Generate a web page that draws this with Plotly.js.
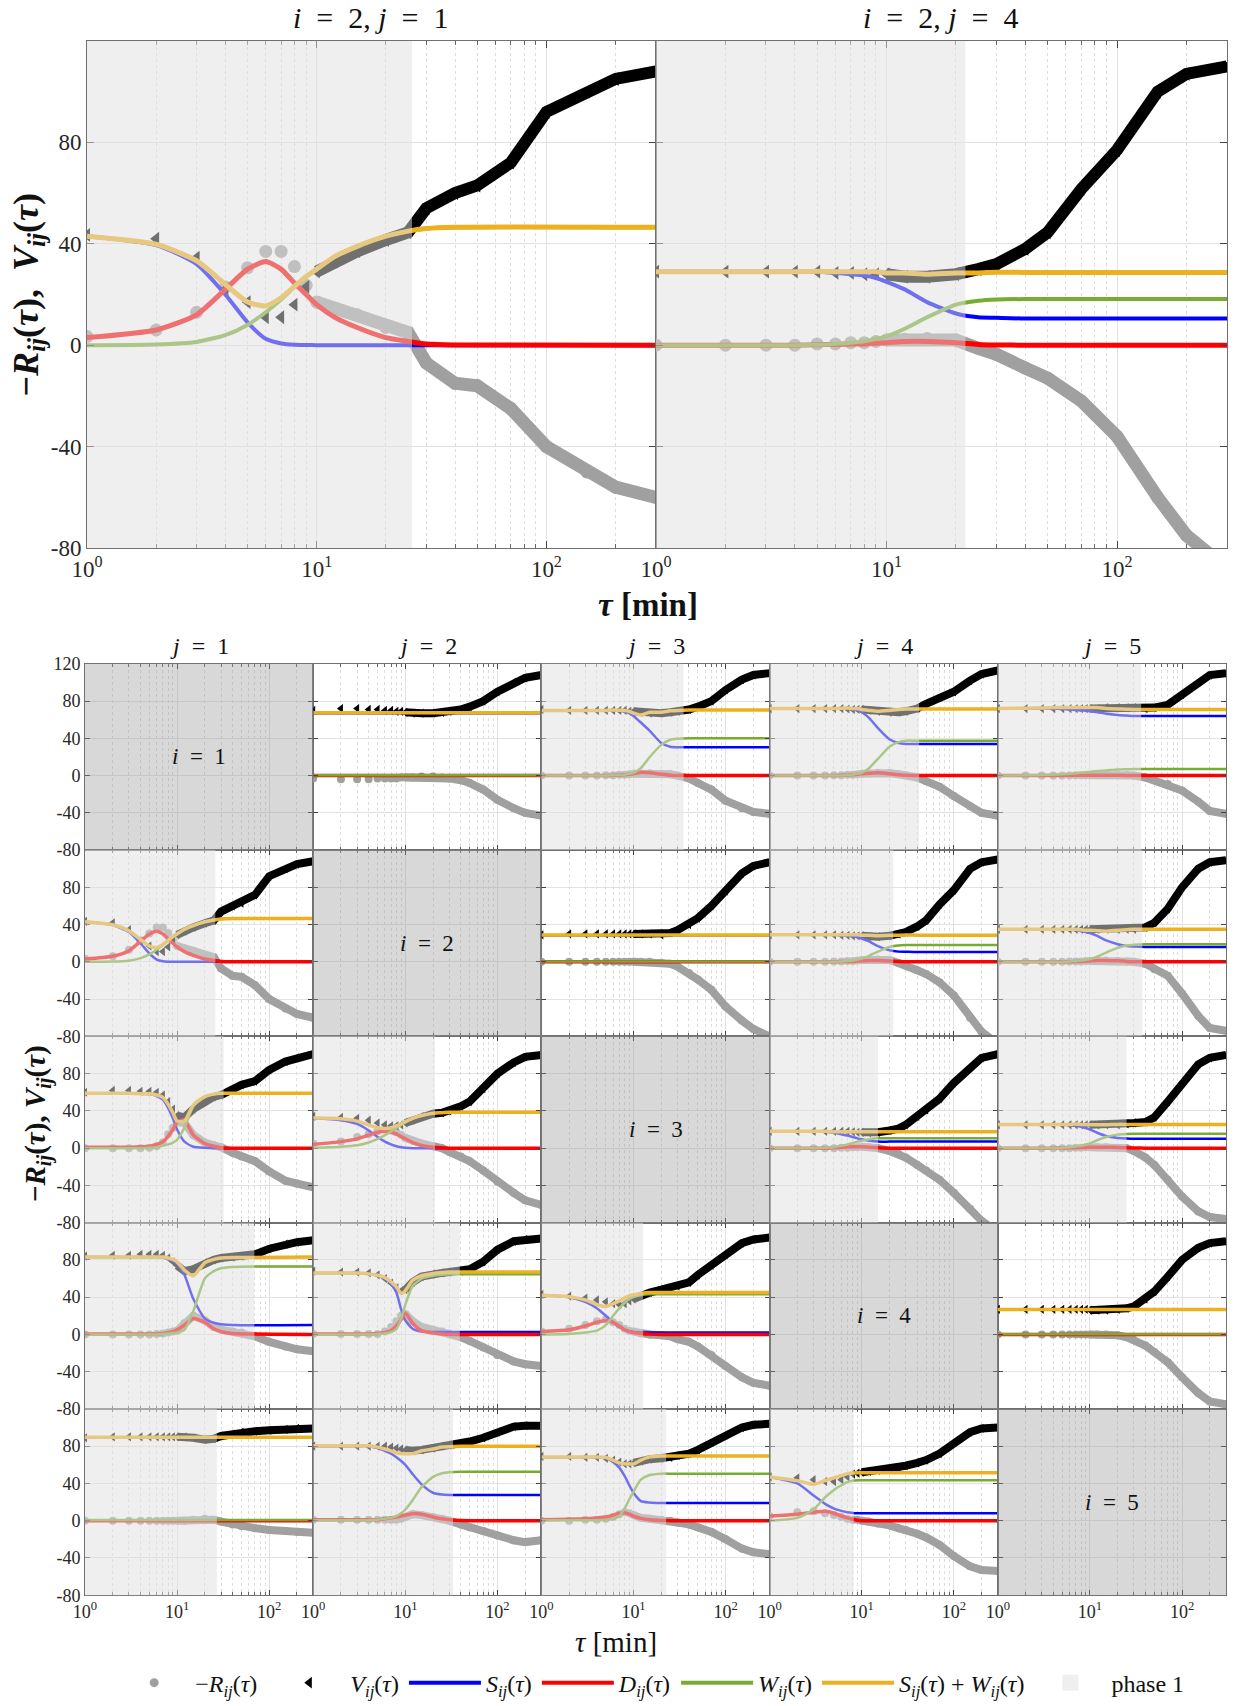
<!DOCTYPE html>
<html><head><meta charset="utf-8">
<script src="https://cdn.plot.ly/plotly-3.0.1.min.js"></script>
<style>html,body{margin:0;padding:0;background:#fff}#chart{width:1238px;height:1706px}</style>
</head><body><div id="chart"></div>
<script>
// ---- shared time grids (minutes) ----
const TAU = [1,2,3,4,5,6,7,8,9,10,12,15,20,25,30,40,50,70,100,150,200,300];   // -R and V samples
const TM  = [1,2,3,4,5,6,7,8,9,10,12,15,20,25,30,40,300];                     // model curves S, D, W

// ---- panel i=1, j=2 ----
const R12 = [-3,-4,-4,-4,-3,-3,-3,-3,-2,-2,-2,-1,-1,-2,-3,-5,-8,-15,-26,-35,-40,-43];
const V12 = [70,72,72,71,71,70,70,69,69,68,67,67,67,68,69,71,74,80,90,100,105,108];
const S12 = [67,67,67,67,67,67,67,67,67,67,67,67,67,67,67,67,67];
const D12 = [0,0,0,0,0,0,0,0,0,0,0,0,0,0,0,0,0];
const W12 = [0.4,0.4,0.4,0.4,0.4,0.4,0.4,0.4,0.4,0.4,0.4,0.4,0.4,0.4,0.4,0.4,0.4];
const P12 = 0;
// ---- panel i=1, j=3 ----
const R13 = [0,0,0,0,0.5,0.5,1,1,1.5,2,2,2.5,2,1.5,0,-3,-8,-15,-27,-35,-39,-41];
const V13 = [71,70,70,70,70,70,70,70,69,69,68,67,67,68,69,71,74,80,92,103,108,110];
const S13 = [70,70,70,70,70,70,69.5,69,67,64,57,48,35,31,30.5,30.5,30.5];
const D13 = [0,0,0,0,0,0.3,0.5,1,1.5,2,3.5,3,1.5,0.5,0.1,0,0];
const W13 = [0,0,0,0,0,0.3,0.6,1,2,3,8,20,33,38.5,39.5,40,40];
const P13 = 35;
// ---- panel i=1, j=4 ----
const R14 = [0,0,0,0,0.5,0.5,1,1,1.5,2,2.5,3,2.5,1.5,0.5,-2,-6,-12,-22,-33,-40,-43];
const V14 = [72,72,72,72,72,72,71.5,71,71,71,70,69,68,68,69,72,77,84,90,102,109,113];
const S14 = [72,72,72,72,72,72,72,71,70,68,62,51,39,35,34,34,34];
const D14 = [0,0,0,0,0,0.3,0.5,1,1.5,2,2.5,3,2,1,0.3,0,0];
const W14 = [0,0,0,0,0,0.2,0.5,1,2,3,8,18,31,36,37.5,37.5,37.5];
const P14 = 42;
// ---- panel i=1, j=5 ----
const R15 = [0,0,0,0,0,0,0.5,0.5,0.5,0.5,0.5,1,1,1,0,-2,-5,-9,-16,-28,-38,-41];
const V15 = [72,72,72,72,72,72,72,72,72,72,72,73,73,73,73,72,73,76,87,100,108,110];
const S15 = [72,72,72,72,71.5,71,70.5,70,69.5,69,68,66.5,65,64.5,64,64,64];
const D15 = [0,0,0,0,0.2,0.3,0.4,0.5,0.5,0.5,0.5,0.5,0.3,0.2,0.1,0,0];
const W15 = [0,0.3,0.7,1,1.5,2,2.5,3,3.5,4,5,5.5,6.5,6.8,7,7,7];
const P15 = 36;
// ---- panel i=2, j=1 ----
const R21 = [3.4,6,13,23,30.5,37,37,31,23.6,17,14.6,12,7,5,-7,-15,-16,-25,-40,-50,-56,-60];
const V21 = [43.5,42,34.5,22,17,11,11,16,23,29,33,37,41.5,44.5,54,60,63,72,92,100,105,108];
const S21 = [43,39.5,32,20,9,2.5,0.7,0.2,0.1,0,0,0,0,0,0,0,0];
const D21 = [3,6,12,22,30,33,30,24.5,20,16,11,7,3,1.5,0.5,0.1,0];
const W21 = [0,0.3,1.3,4,8,13,18,23,27,30,35,39,43,45,46,46.5,46.5];
const P21 = 26;
// ---- panel i=2, j=3 ----
const R23 = [0,0,0,0,0,0,0,0,0,0,0,0,-1,-2,-5,-12,-19,-30,-48,-63,-72,-80];
const V23 = [29,30,30,30,30,30,30,30,30,30,30,30,29,31,34,40,47,60,76,95,103,107];
const S23 = [28.6,28.6,28.6,28.6,28.6,28.6,28.6,28.6,28.6,28.6,28.6,28.6,28.6,28.6,28.6,28.6,28.6];
const D23 = [0,0,0,0,0,0,0,0,0,0,0,0,0,0,0,0,0];
const W23 = [0.3,0.3,0.3,0.3,0.3,0.3,0.3,0.3,0.3,0.3,0.3,0.3,0.3,0.3,0.3,0.3,0.3];
const P23 = 0;
// ---- panel i=2, j=4 ----
const R24 = [0,0,0,0,0.5,0.5,1,1,1.5,2,2.3,2.6,2,-1.2,-3.6,-9,-13,-22,-36,-60,-75,-88];
const V24 = [29,29,29,29,29,28.5,28.5,28,28,28,27,27,28,30,32,38,44.5,61.6,77,100,107,110];
const S24 = [29,29,29,29,29,28.5,28,27.5,26.5,25,22,17,12.5,11,10.8,10.5,10.5];
const D24 = [0,0,0,0,0.2,0.3,0.5,0.5,0.8,1,1.5,1.5,1,0.3,0.1,0,0];
const W24 = [0,0,0,0,0.2,0.5,1,1.5,2.5,3.5,6.5,11,16,17.5,18,18.2,18.2];
const P24 = 22;
// ---- panel i=2, j=5 ----
const R25 = [0,0,0,0,0,0.5,0.5,0.5,1,1,1,1.5,1,0.5,0,-2,-8,-15,-34,-58,-71,-74];
const V25 = [35,35,35,35,35,35,35,35,35,35,35,35,35,35,35,37,42,57,80,100,107,109];
const S25 = [35,35,35,35,35,34.5,34,33,32,31,28,23,19,17,16.5,16,16];
const D25 = [0,0,0,0,0,0.2,0.3,0.5,0.7,1,1.5,1.5,1.2,0.5,0.2,0,0];
const W25 = [0,0,0,0,0,0.5,1,1.5,2,3,5.5,10,15,17.5,18.5,19,19];
const P25 = 37;
// ---- panel i=3, j=1 ----
const R31 = [0,0,0,0,0.5,2,6,15,22,28,27,14,6,3,1,-5,-9,-14,-25,-35,-38,-42];
const V31 = [60,62,62,61,61,60,57,50,42,35,33,42,50,55,57,63,68,72,84,93,97,101];
const S31 = [59,59,59,58.5,58,56,52,43,32,20,7,1.5,0.3,0,0,0,0];
const D31 = [1,1,1,1.5,2,4,7,13,20,28,30,14,5,2,0.5,0,0];
const W31 = [0,0,0,0,0.3,1,2.5,4,6,9,22,45,55,58,59,59,59];
const P31 = 32;
// ---- panel i=3, j=2 ----
const R32 = [5,7,12,15,18,20,19,17,14,11,8,5,2,0,-4,-9,-14,-24,-36,-48,-56,-61];
const V32 = [34,33,32,30,27,25,24,24,25,27,30,34,37,38,40,45,50,64,80,92,98,100];
const S32 = [32,30,26,19,12,7,4,2,1,0.5,0,0,0,0,0,0,0];
const D32 = [4,7,10,14,17,18,17,15,12.5,10,6,3,1,0.3,0,0,0];
const W32 = [0.5,1.5,3,6,10,14,18,22,25,28,32,35,37.5,38,38.5,38.5,38.5];
const P32 = 21;
// ---- panel i=3, j=4 ----
const R34 = [0,0,0,0,0,0.5,0.5,1,1,1.5,1,0,-3,-6,-10,-18,-24,-34,-48,-65,-78,-90];
const V34 = [18,18,18,18,18,18,18,17.5,17,17,16.5,17,19,21,25,34,41,53,70,87,97,101];
const S34 = [18,18,18,17.5,16.5,15,13.5,12,10.5,9.5,8,7,7,7,7,7,7];
const D34 = [0,0,0,0,0.5,1,1.3,1.5,1.5,1.5,1,0.5,0,0,0,0,0];
const W34 = [0,0,0,0.5,1,2.5,4,5.5,7,8,9.5,10.5,10.5,10.5,10.5,10.5,10.5];
const P34 = 15;
// ---- panel i=3, j=5 ----
const R35 = [0,0,0,0,0,0,0.5,0.5,1,1,1,1,0.5,0,-3,-10,-18,-34,-52,-68,-74,-76];
const V35 = [25,25,25,25,25,25,25,25,25,25,25,25,25,26,27,28,33,50,70,90,97,100];
const S35 = [25.5,25.5,25.5,25.5,25,24.5,24,23,21.5,20,16.5,13,11,10.3,10,10,10];
const D35 = [0,0,0,0,0.2,0.3,0.5,0.7,0.8,1,1,1,0.7,0.3,0.1,0,0];
const W35 = [0,0,0,0,0.5,1,1.8,2.5,3.8,5,8.5,12,14.5,15.2,15.5,15.5,15.5];
const P35 = 25;
// ---- panel i=4, j=1 ----
const R41 = [0,0,0,0,0,0.5,1,2,3,4,12,20,15,8,5,3,2,-2,-8,-13,-16,-18];
const V41 = [84,85,85,86,86,86,85,82,78,74,68,70,77,80,82,83,84,86,92,97,99,101];
const S41 = [83,83,83,83,83,83,82.5,81,79,76,64,38,17,12.5,11,10,10];
const D41 = [0.5,0.5,0.5,0.5,0.5,0.5,1,2,3,5,10,17,13,6,3,1,0];
const W41 = [0,0,0,0,0,0,0.5,1,1.5,2,5,25,60,68,71,72.5,73];
const P41 = 69;
// ---- panel i=4, j=2 ----
const R42 = [0.5,0.5,0.5,0.5,0.5,3,8,14,20,22,14,8,5,3,1,-3,-7,-14,-22,-29,-32,-34];
const V42 = [68,67,67,66,64,60,55,50,47,48,56,62,65,66,67,68,70,78,91,100,102,103];
const S42 = [66,66,66,65,63,60,54,45,27,15,6,3,2.5,2.5,2.5,2.5,2.5];
const D42 = [0.5,0.5,0.5,0.5,1,2,4,9,16,23,12,4,1.5,0.5,0,0,0];
const W42 = [0,0,0,0,0.5,1,2.5,6,17,32,52,60,63,64,64.5,64.5,64.5];
const P42 = 39;
// ---- panel i=4, j=3 ----
const R43 = [3,6,10,14,16,13,10,6,4,3,1,0,-1,-2,-5,-8,-13,-22,-34,-46,-52,-55];
const V43 = [43,41,39,37,35,33,32,33,36,38,42,45,48,50,52,56,64,74,86,98,102,104];
const S43 = [42,40,35,28,20,13,8,5,3.5,2.5,2,2,2,2,2,2,2];
const D43 = [3,5,9,13,15,13,9,5,3,2,1,0.3,0,0,0,0,0];
const W43 = [0,0.5,2,4,10,20,28,34,38,40,42,43,43,43,43,43,43];
const P43 = 12.7;
// ---- panel i=4, j=5 ----
const R45 = [0,0,0,0,0,0,0,0,0,0,0,0,-1,-3,-6,-12,-19,-30,-46,-63,-72,-75];
const V45 = [27,27,27,27,27,27,27,27,27,26,26,26,27,28,30,38,46,62,80,93,98,100];
const S45 = [26.5,26.5,26.5,26.5,26.5,26.5,26.5,26.5,26.5,26.5,26.5,26.5,26.5,26.5,26.5,26.5,26.5];
const D45 = [0,0,0,0,0,0,0,0,0,0,0,0,0,0,0,0,0];
const W45 = [0.3,0.3,0.3,0.3,0.3,0.3,0.3,0.3,0.3,0.3,0.3,0.3,0.3,0.3,0.3,0.3,0.3];
const P45 = 0;
// ---- panel i=5, j=1 ----
const R51 = [0,0,0,0,0,0,0,0,0,0,0,1,2,1,-1,-4,-6,-8,-10,-11,-12,-13];
const V51 = [89,90,90,90,90,90,90,90,90,90,90,89,87,88,91,93,95,96,97,98,99,99];
const S51 = [89,89,89,89,89,89,89,89,89,89,89,89,89,89,89,89,89];
const D51 = [0,0,0,0,0,0,0,0,0,0,0,0,0,0,0,0,0];
const W51 = [0.7,0.7,0.7,0.7,0.7,0.7,0.7,0.7,0.7,0.7,0.7,0.7,0.7,0.7,0.7,0.7,0.7];
const P51 = 27;
// ---- panel i=5, j=2 ----
const R52 = [1,1,1,1,1,1,1,1,2,4,7,6,4,2,0,-4,-7,-11,-16,-21,-23,-21];
const V52 = [80,80,80,80,80,80,79,78,77,76,75,76,78,80,81,83,85,89,95,101,102,102];
const S52 = [80,80,80,80,78,75,72,68,64,60,50,39,30,28,27.5,27.5,27.5];
const D52 = [1,1,1,1,1,2,3,4,5,6,7.5,7,4,2,1,0.3,0];
const W52 = [0.5,0.5,0.5,0.5,1,2,3,5,8,12,22,36,47,51,52,52.5,52.5];
const P52 = 33;
// ---- panel i=5, j=3 ----
const R53 = [0,0,1,1,2,4,7,9,8,6,3,2,1,0,-2,-4,-7,-12,-20,-30,-34,-36];
const V53 = [69,69,68,68,67,65,63,61,61,62,64,66,67,68,70,72,76,84,92,100,103,104];
const S53 = [68,68,68,68,67,63,57,48,38,30,21,19.5,19,19,19,19,19];
const D53 = [1,1.5,2,3,4,6,8,8.5,7,5,2.5,1,0.3,0,0,0,0];
const W53 = [0.5,0.5,0.5,0.5,1,2,5,13,23,31,44,49,50.5,50.5,50.5,50.5,50.5];
const P53 = 22.6;
// ---- panel i=5, j=4 ----
const R54 = [5,9,10,8,6,4,2,1,1,0,-1,-3,-5,-8,-10,-14,-18,-26,-38,-49,-53,-54];
const V54 = [47,46,44,42,42,44,47,50,51,52,53,54,56,57,59,62,65,72,84,95,99,100];
const S54 = [47,40,27,18,13,10.5,9,8.3,8,8,8,8,8,8,8,8,8];
const D54 = [5,7,9,10,8,5,3,1.5,0.5,0,0,0,0,0,0,0,0];
const W54 = [0,3,12,25,33,38,41.5,43,43.5,43.5,43.5,43.5,43.5,43.5,43.5,43.5,43.5];
const P54 = 8.2;

const PANELS = {
  '1,2':{R:R12,V:V12,S:S12,D:D12,W:W12,P:P12}, '1,3':{R:R13,V:V13,S:S13,D:D13,W:W13,P:P13},
  '1,4':{R:R14,V:V14,S:S14,D:D14,W:W14,P:P14}, '1,5':{R:R15,V:V15,S:S15,D:D15,W:W15,P:P15},
  '2,1':{R:R21,V:V21,S:S21,D:D21,W:W21,P:P21}, '2,3':{R:R23,V:V23,S:S23,D:D23,W:W23,P:P23},
  '2,4':{R:R24,V:V24,S:S24,D:D24,W:W24,P:P24}, '2,5':{R:R25,V:V25,S:S25,D:D25,W:W25,P:P25},
  '3,1':{R:R31,V:V31,S:S31,D:D31,W:W31,P:P31}, '3,2':{R:R32,V:V32,S:S32,D:D32,W:W32,P:P32},
  '3,4':{R:R34,V:V34,S:S34,D:D34,W:W34,P:P34}, '3,5':{R:R35,V:V35,S:S35,D:D35,W:W35,P:P35},
  '4,1':{R:R41,V:V41,S:S41,D:D41,W:W41,P:P41}, '4,2':{R:R42,V:V42,S:S42,D:D42,W:W42,P:P42},
  '4,3':{R:R43,V:V43,S:S43,D:D43,W:W43,P:P43}, '4,5':{R:R45,V:V45,S:S45,D:D45,W:W45,P:P45},
  '5,1':{R:R51,V:V51,S:S51,D:D51,W:W51,P:P51}, '5,2':{R:R52,V:V52,S:S52,D:D52,W:W52,P:P52},
  '5,3':{R:R53,V:V53,S:S53,D:D53,W:W53,P:P53}, '5,4':{R:R54,V:V54,S:S54,D:D54,W:W54,P:P54}
};

// ---- styling ----
const FONT = 'Liberation Serif, DejaVu Serif, serif';
const C_R = '#a0a0a0', C_V = '#000000', C_S = '#0000ff', C_D = '#ff0000', C_W = '#77ac30', C_SW = '#edb120';
const PW = 1238, PHt = 1706;
const fx = p => p / PW, fy = p => 1 - p / PHt;
const LOGMAX = Math.log10(300);
const NB = '\u00a0';
const minorVals = [];
[1,10,100].forEach(d => { for (let k = 2; k <= 9; k++) if (k*d <= 300) minorVals.push(k*d); });

const data = [], shapes = [], annotations = [];
const layout = {
  width: PW, height: PHt, margin:{l:0,r:0,t:0,b:0}, autosize:false,
  paper_bgcolor:'#fff', plot_bgcolor:'#fff', font:{family:FONT, color:'#222'},
  showlegend:true, hovermode:false
};
const sfx = n => n === 1 ? '' : String(n);

function addAxes(n, xd, yd, o) {
  const s = sfx(n);
  layout['xaxis'+s] = {
    type:'log', range:[0, LOGMAX], domain:xd, anchor:'y'+s,
    tickmode:'array', tickvals:[1,10,100],
    ticktext: o.xlab ? ['10<sup>0</sup>','10<sup>1</sup>','10<sup>2</sup>'] : ['','',''],
    ticks:'inside', ticklen:o.big?7:5, tickcolor:'#444', tickwidth:1,
    showline:true, linecolor:'#707070', linewidth:1, mirror:'ticks',
    showgrid:true, gridcolor:'#e2e2e2', gridwidth:1, zeroline:false,
    minor:{tickmode:'array', tickvals:minorVals, ticks:'inside', ticklen:o.big?4:3, tickcolor:'#666',
           showgrid:true, gridcolor:'#dddddd', griddash:'dot', gridwidth:1},
    tickfont:{family:FONT, size:o.big?23:18, color:'#262626'}, fixedrange:true
  };
  layout['yaxis'+s] = {
    range:[-80,120], domain:yd, anchor:'x'+s,
    tickmode:'array', tickvals:[-80,-40,0,40,80,120], ticktext:o.ylab,
    ticks:'inside', ticklen:o.big?7:5, tickcolor:'#444', tickwidth:1,
    showline:true, linecolor:'#707070', linewidth:1, mirror:'ticks',
    showgrid:true, gridcolor:'#e2e2e2', gridwidth:1, zeroline:false,
    tickfont:{family:FONT, size:o.big?23:18, color:'#262626'}, fixedrange:true
  };
}

function addPanel(n, p, big) {
  const s = sfx(n), xa = 'x'+s, ya = 'y'+s;
  const ms = big ? 13 : 8, vs = big ? 12 : 8;
  const common = {xaxis:xa, yaxis:ya, showlegend:false, hoverinfo:'skip'};
  // -R : dense band after tau=10 plus individual markers
  data.push(Object.assign({x:TAU.slice(9), y:p.R.slice(9), mode:'lines', line:{color:C_R, width:ms}}, common));
  data.push(Object.assign({x:TAU, y:p.R, mode:'markers', marker:{symbol:'circle', size:ms, color:C_R}}, common));
  // V
  data.push(Object.assign({x:TAU.slice(9), y:p.V.slice(9), mode:'lines', line:{color:C_V, width:vs}}, common));
  data.push(Object.assign({x:TAU, y:p.V, mode:'markers', marker:{symbol:'triangle-left', size:vs, color:C_V}}, common));
  const SW = p.S.map((v,k) => v + p.W[k]);   // S_ij + W_ij
  const lw = big ? [4,5,4,5] : [2.5,3.5,2.5,3.5];
  [[p.S,C_S,lw[0]],[p.D,C_D,lw[1]],[p.W,C_W,lw[2]],[SW,C_SW,lw[3]]].forEach(([y,c,w]) => {
    data.push(Object.assign({x:TM, y:y, mode:'lines', line:{color:c, width:w, shape:'spline', smoothing:0.6}}, common));
  });
  if (p.P > 0) {
    shapes.push({type:'rect', xref:xa, yref:ya+' domain', x0:1, x1:p.P, y0:0, y1:1,
                 fillcolor:'rgba(223,223,223,0.5)', line:{width:0}, layer:'above'});
  }
}

function ann(x, y, text, size, extra) {
  annotations.push(Object.assign({xref:'paper', yref:'paper', x:fx(x), y:fy(y), text, showarrow:false,
    xanchor:'center', yanchor:'middle', font:{family:FONT, size, color:'#111'}}, extra || {}));
}

// ---- top two panels ----
const yTop = [fy(549), fy(41)];
addAxes(1, [fx(87), fx(656)], yTop, {big:true, xlab:true, ylab:['-80','-40','0','40','80','']});
addAxes(2, [fx(656), fx(1227)], yTop, {big:true, xlab:true, ylab:['','','','','','']});
addPanel(1, PANELS['2,1'], true);
addPanel(2, PANELS['2,4'], true);

// ---- 5x5 grid ----
const colE = [85, 313.2, 541.4, 769.6, 997.8, 1226];
const rowE = [665, 851.6, 1038.2, 1224.8, 1411.4, 1598];
for (let i = 1; i <= 5; i++) {
  for (let j = 1; j <= 5; j++) {
    const n = 3 + (i-1)*5 + (j-1);
    let ylab = ['','','','','',''];
    if (j === 1) ylab = i === 1 ? ['-80','-40','0','40','80','120'] : ['-80','-40','0','40','80',''];
    addAxes(n, [fx(colE[j-1]), fx(colE[j])], [fy(rowE[i]), fy(rowE[i-1])], {big:false, xlab:i===5, ylab});
    const s = sfx(n);
    if (i === j) {
      // empty subplot (no data) so that its axes and grid are drawn
      data.push({x:[null], y:[null], xaxis:'x'+s, yaxis:'y'+s, mode:'markers', showlegend:false, hoverinfo:'skip'});
      shapes.push({type:'rect', xref:'x'+s+' domain', yref:'y'+s+' domain', x0:0, x1:1, y0:0, y1:1,
                   fillcolor:'rgba(150,150,150,0.37)', line:{width:0}, layer:'above'});
      ann((colE[j-1]+colE[j])/2, (rowE[i-1]+rowE[i])/2, '<i>i</i>'+NB+NB+'='+NB+NB+i, 23);
    } else {
      addPanel(n, PANELS[i+','+j], false);
    }
  }
  ann((colE[i-1]+colE[i])/2, 647, '<i>j</i>'+NB+NB+'='+NB+NB+i, 24);
}

// ---- titles / axis labels ----
ann(371, 18, '<i>i</i>'+NB+NB+'='+NB+NB+'2,'+NB+'<i>j</i>'+NB+NB+'='+NB+NB+'1', 30);
ann(941, 18, '<i>i</i>'+NB+NB+'='+NB+NB+'2,'+NB+'<i>j</i>'+NB+NB+'='+NB+NB+'4', 30);
const yLabBig = '<b>−<i>R</i><sub><i>ij</i></sub>(<i>τ</i>),'+NB+NB+'<i>V</i><sub><i>ij</i></sub>(<i>τ</i>)</b>';
const yLabSmall = '<b>−<i>R</i><sub><i>ij</i></sub>(<i>τ</i>),'+NB+'<i>V</i><sub><i>ij</i></sub>(<i>τ</i>)</b>';
ann(28, 295, yLabBig, 36, {textangle:-90});
ann(37, 1126, yLabSmall, 29, {textangle:-90});
ann(648, 606, '<b><i>τ</i> [min]</b>', 33);
ann(616, 1645, '<i>τ</i> [min]', 29);

// ---- legend entries ----
const lg = {x:[null], y:[null], xaxis:'x', yaxis:'y', showlegend:true, hoverinfo:'skip'};
data.push(Object.assign({name:'−<i>R<sub>ij</sub></i>(<i>τ</i>)'+NB, mode:'markers', marker:{symbol:'circle', size:9, color:C_R}}, lg));
data.push(Object.assign({name:'<i>V<sub>ij</sub></i>(<i>τ</i>)', mode:'markers', marker:{symbol:'triangle-left', size:10, color:C_V}}, lg));
data.push(Object.assign({name:'<i>S<sub>ij</sub></i>(<i>τ</i>)', mode:'lines', line:{color:C_S, width:4}}, lg));
data.push(Object.assign({name:'<i>D<sub>ij</sub></i>(<i>τ</i>)', mode:'lines', line:{color:C_D, width:4}}, lg));
data.push(Object.assign({name:'<i>W<sub>ij</sub></i>(<i>τ</i>)', mode:'lines', line:{color:C_W, width:4}}, lg));
data.push(Object.assign({name:'<i>S<sub>ij</sub></i>(<i>τ</i>) + <i>W<sub>ij</sub></i>(<i>τ</i>)', mode:'lines', line:{color:C_SW, width:4}}, lg));
data.push(Object.assign({name:'phase 1', mode:'markers', marker:{symbol:'square', size:30, color:'#efefef'}}, lg));

layout.legend = {orientation:'h', x:0.526, xanchor:'center', y:fy(1686), yanchor:'middle',
  font:{family:FONT, size:24, color:'#111'}, itemwidth:72, bgcolor:'rgba(0,0,0,0)', traceorder:'normal'};
layout.shapes = shapes;
layout.annotations = annotations;

Plotly.newPlot('chart', data, layout, {staticPlot:true, displayModeBar:false});
</script>
</body></html>
